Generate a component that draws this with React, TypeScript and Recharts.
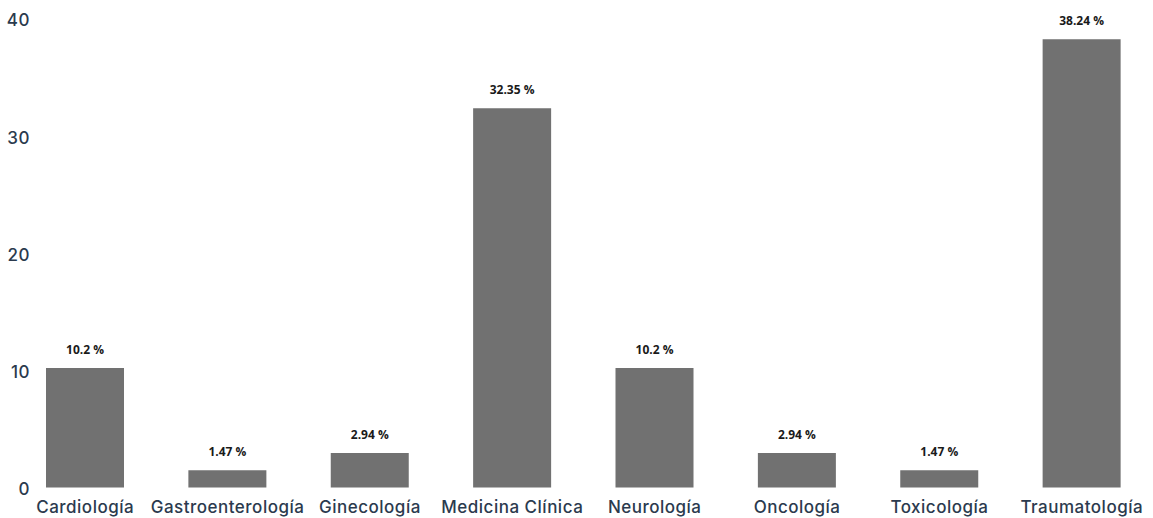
import React from "react";
import { BarChart, Bar, XAxis, YAxis, LabelList } from "recharts";

const categories = [
  "Cardiología",
  "Gastroenterología",
  "Ginecología",
  "Medicina Clínica",
  "Neurología",
  "Oncología",
  "Toxicología",
  "Traumatología",
];
const percentages = [10.2, 1.47, 2.94, 32.35, 10.2, 2.94, 1.47, 38.24];
const yTicks = [0, 10, 20, 30, 40];

const data = categories.map((name, i) => ({ name, value: percentages[i] }));

const AXIS_COLOR = "#2b3a4e";
const AXIS_FONT = "Inter, 'Open Sans', sans-serif";

const YTick = (props: any) => {
  const { x, y, payload } = props;
  return (
    <text
      x={x + 24}
      y={y + 2}
      dy="0.35em"
      textAnchor="end"
      fill={AXIS_COLOR}
      fontSize={17}
      fontFamily={AXIS_FONT}
      fontWeight={500}
      letterSpacing={0.5}
    >
      {payload.value}
    </text>
  );
};

export default function App() {
  return (
    <div style={{ position: "absolute", left: 0, top: 0, width: 1153, height: 518, background: "#fff" }}>
      <BarChart
        width={1153}
        height={518}
        data={data}
        margin={{ top: 18.5, right: 0, bottom: 0, left: 0 }}
      >
        <XAxis
          dataKey="name"
          axisLine={false}
          tickLine={false}
          interval={0}
          height={30.5}
          tickMargin={7}
          tick={{ fill: AXIS_COLOR, fontSize: 17, fontFamily: AXIS_FONT, fontWeight: 500, letterSpacing: 0.5 }}
        />
        <YAxis
          domain={[0, 40]}
          ticks={yTicks}
          axisLine={false}
          tickLine={false}
          width={14}
          tick={<YTick />}
        />
        <Bar dataKey="value" fill="#717171" barSize={78} isAnimationActive={false}>
          <LabelList
            dataKey="value"
            position="top"
            offset={14}
            formatter={(v: any) => `${v} %`}
            style={{ fill: "#1a1a1a", fontSize: 12, fontWeight: 700, fontFamily: "'Open Sans', sans-serif" }}
          />
        </Bar>
      </BarChart>
    </div>
  );
}
